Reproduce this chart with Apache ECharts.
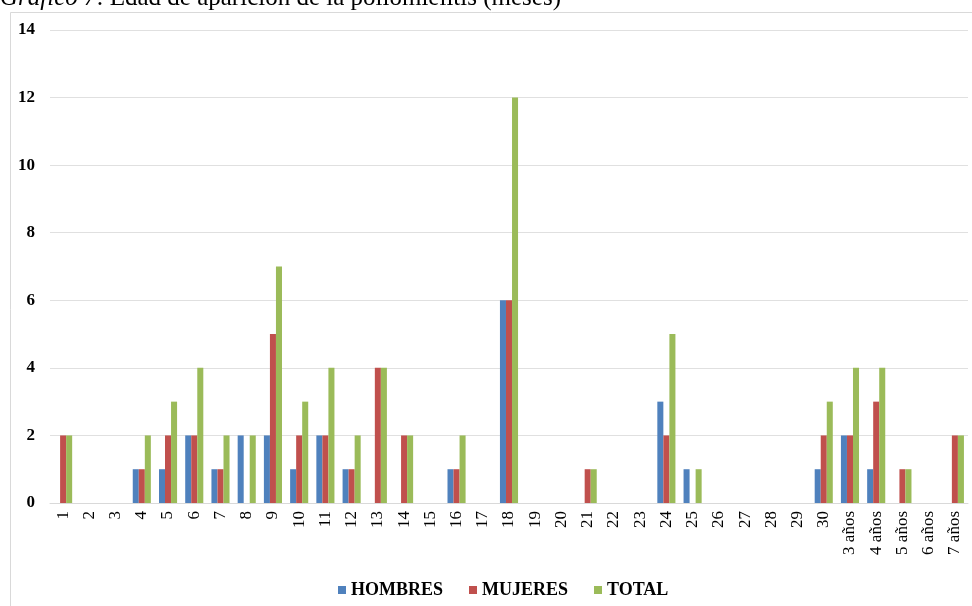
<!DOCTYPE html>
<html>
<head>
<meta charset="utf-8">
<script src="https://cdn.jsdelivr.net/npm/echarts@6/dist/echarts.min.js"></script>
<style>html,body{margin:0;padding:0;background:#fff;}#c{width:972px;height:606px;}</style>
</head>
<body>
<div id="c"></div>
<script>
const categories = ['1','2','3','4','5','6','7','8','9','10','11','12','13','14','15','16','17','18','19','20','21','22','23','24','25','26','27','28','29','30','3 años','4 años','5 años','6 años','7 años'];
const hombres = [0,0,0,1,1,2,1,2,2,1,2,1,0,0,0,1,0,6,0,0,0,0,0,3,1,0,0,0,0,1,2,1,0,0,0];
const mujeres = [2,0,0,1,2,2,1,0,5,2,2,1,4,2,0,1,0,6,0,0,1,0,0,2,0,0,0,0,0,2,2,3,1,0,2];
const total   = [2,0,0,2,3,4,2,2,7,3,4,2,4,2,0,2,0,12,0,0,1,0,0,5,1,0,0,0,0,3,4,4,1,0,2];
const seriesNames = ['HOMBRES','MUJERES','TOTAL'];
const yTicks = {min:0, max:14, interval:2};
const titleLead = 'Gráfico 7';
const titleRest = ': Edad de aparición de la poliomielitis (meses)';

const serif = '"Liberation Serif", "DejaVu Serif", serif';
const chart = echarts.init(document.getElementById('c'));
chart.setOption({
  animation:false,
  backgroundColor:'#fff',
  color:['#4F81BD','#C0504D','#9BBB59'],
  graphic:[
    {type:'rect', shape:{x:10.5,y:12.5,width:990,height:700}, style:{fill:'none', stroke:'#d9d9d9', lineWidth:1}, z:-1},
    {type:'text', left:0, top:-14, style:{
      text:'{i|' + titleLead + '}{n|' + titleRest + '}',
      rich:{
        i:{fontFamily:serif, fontSize:25, fontStyle:'italic', fill:'#000'},
        n:{fontFamily:serif, fontSize:25, fill:'#000'}
      }
    }}
  ],
  grid:{left:50, right:4, top:30, bottom:103, containLabel:false},
  legend:{
    data:seriesNames, left:333, top:576,
    itemWidth:8, itemHeight:8, itemGap:26, icon:'rect',
    textStyle:{fontFamily:serif, fontWeight:'bold', fontSize:18, color:'#000'}
  },
  xAxis:{
    type:'category', data:categories,
    axisLine:{lineStyle:{color:'#d9d9d9'}},
    axisTick:{show:false},
    axisLabel:{interval:0, rotate:90, margin:8, fontFamily:serif, fontSize:17, color:'#000'}
  },
  yAxis:{
    type:'value', min:yTicks.min, max:yTicks.max, interval:yTicks.interval,
    axisLine:{show:false}, axisTick:{show:false},
    splitLine:{lineStyle:{color:'#e0e0e0'}},
    axisLabel:{margin:15, fontFamily:serif, fontWeight:'bold', fontSize:17, color:'#000'}
  },
  series:[
    {name:seriesNames[0], type:'bar', data:hombres, barGap:'0%', barCategoryGap:'31%'},
    {name:seriesNames[1], type:'bar', data:mujeres, barGap:'0%', barCategoryGap:'31%'},
    {name:seriesNames[2], type:'bar', data:total, barGap:'0%', barCategoryGap:'31%'}
  ]
});
</script>
</body>
</html>
